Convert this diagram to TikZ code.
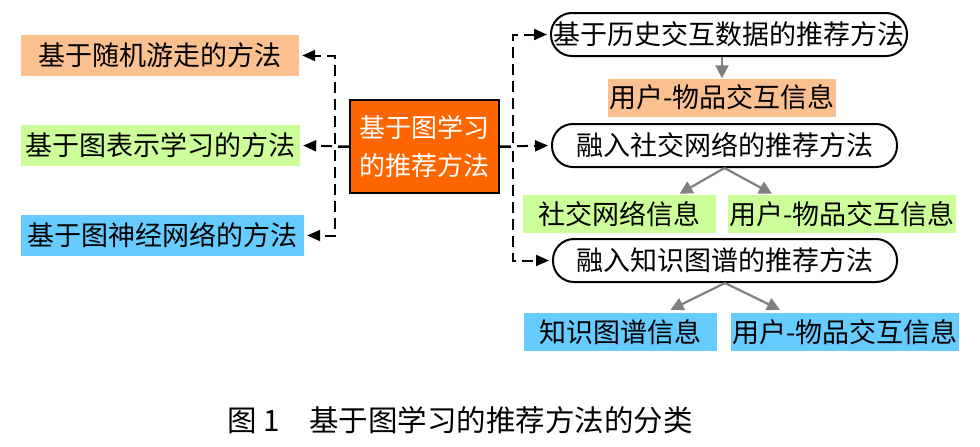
\documentclass[tikz,border=0pt]{standalone}
\usepackage{fontspec}
\newfontfamily\cjk{Noto Sans CJK SC}
\usetikzlibrary{arrows.meta, positioning}
\definecolor{peach}{HTML}{FAC090}
\definecolor{leaf}{HTML}{CCFF99}
\definecolor{sky}{HTML}{66CCFF}
\definecolor{rootorange}{HTML}{FF6600}

\begin{document}
\begin{tikzpicture}[x=1pt, y=-1pt,
        font=\cjk\fontsize{27}{30}\selectfont,
        tag/.style={inner sep=0pt, minimum height=41pt},
        info/.style={inner sep=0pt, minimum height=38pt, minimum width=228pt},
        way/.style={draw, line width=2pt, rounded corners=21pt, minimum height=43pt, inner sep=0pt},
        link/.style={dash pattern=on 11pt off 6pt, line width=2pt, -{Triangle[length=13pt, width=11pt]}, shorten >=3pt},
        feed/.style={gray, line width=2.2pt, -{Triangle[length=13pt, width=13pt]}}]
        \useasboundingbox (0,0) rectangle (980,447);
        % Root
        \node[draw, line width=2pt, fill=rootorange, text=white, minimum width=149pt, minimum height=93pt,
              inner sep=0pt, align=center, font=\cjk\fontsize{26}{38}\selectfont] (root) at (424.5,146.5) {基于图学习\\的推荐方法};
        % Left branch
        \node[tag, fill=peach, minimum width=278pt] (walk) at (160,55.5) {基于随机游走的方法};
        \node[tag, fill=leaf, minimum width=279pt] (embed) at (160.5,145.5) {基于图表示学习的方法};
        \node[tag, fill=sky, minimum width=283pt] (gnn) at (162.5,235.5) {基于图神经网络的方法};
        \draw[link] (root.west) -- ++(-14,0) |- (walk.east);
        \draw[link] (root.west) -- (embed.east);
        \draw[link] (root.west) -- ++(-14,0) |- (gnn.east);
        % Right branch
        \node[way, minimum width=356pt] (hist) at (729,34.5) {基于历史交互数据的推荐方法};
        \node[way, minimum width=345pt] (social) at (724.5,145.5) {融入社交网络的推荐方法};
        \node[way, minimum width=344pt] (kg) at (725,260.5) {融入知识图谱的推荐方法};
        \draw[link] (root.east) -- ++(13,0) |- (hist.west);
        \draw[link] (root.east) -- (social.west);
        \draw[link] (root.east) -- ++(13,0) |- (kg.west);
        % Information used
        \node[info, fill=peach] (ui1) at (722,97.5) {用户-物品交互信息};
        \node[info, fill=leaf, minimum width=193pt] (sinfo) at (619.5,214) {社交网络信息};
        \node[info, fill=leaf] (ui2) at (842,214) {用户-物品交互信息};
        \node[info, fill=sky, minimum width=193pt] (kinfo) at (620.5,332) {知识图谱信息};
        \node[info, fill=sky] (ui3) at (845,332) {用户-物品交互信息};
        \draw[feed] (ui1.north |- hist.south) -- (ui1.north);
        \draw[feed] (social.south) -- ([xshift=60pt, yshift=1pt]sinfo.north);
        \draw[feed] (social.south) -- ([xshift=-70pt, yshift=1pt]ui2.north);
        \draw[feed] (kg.south) -- ([xshift=50pt, yshift=3pt]kinfo.north);
        \draw[feed] (kg.south) -- ([xshift=-65pt, yshift=3pt]ui3.north);
        % Caption
        \node[font=\cjk\fontsize{29.5}{32}\selectfont] (cap) at (460,420) {图~1\hspace{1em}基于图学习的推荐方法的分类};
    \end{tikzpicture}
\end{document}
